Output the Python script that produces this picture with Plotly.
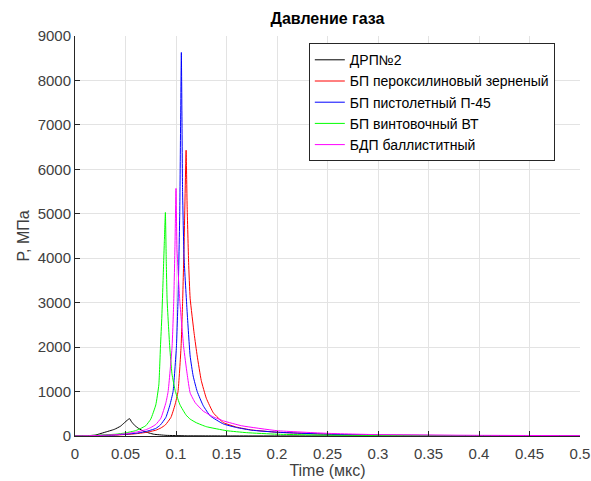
import plotly.graph_objects as go

# ---- data ----
names = ["ДРП№2", "БП пероксилиновый зерненый", "БП пистолетный П-45",
         "БП винтовочный ВТ", "БДП баллиститный"]

t_black = [0, 0.01, 0.02, 0.029, 0.039, 0.045, 0.049, 0.052, 0.054, 0.056, 0.059,
           0.063, 0.0687, 0.078, 0.09, 0.11, 0.15, 0.3, 0.5]
p_black = [0, 5, 20, 80, 150, 220, 300, 360, 390, 320, 240, 170, 100, 40, 15, 5, 2, 1, 0]

t_red = [0, 0.02, 0.04, 0.06, 0.07, 0.08, 0.085, 0.0895, 0.095, 0.099, 0.102, 0.105,
         0.1066, 0.108, 0.110, 0.111, 0.1125, 0.114, 0.118, 0.121, 0.125, 0.13, 0.137,
         0.147, 0.16, 0.175, 0.2, 0.25, 0.3, 0.4, 0.5]
p_red = [0, 8, 20, 50, 80, 130, 180, 250, 420, 700, 1000, 2000, 3060, 4300, 6430, 5200,
         3900, 3100, 2300, 1800, 1250, 850, 520, 300, 200, 135, 85, 40, 20, 9, 5]

t_blue = [0, 0.02, 0.04, 0.06, 0.07, 0.08, 0.0846, 0.09, 0.094, 0.0971, 0.1004, 0.102,
          0.1037, 0.1053, 0.1065, 0.108, 0.111, 0.114, 0.117, 0.121, 0.127, 0.134,
          0.147, 0.16, 0.175, 0.2, 0.25, 0.3, 0.4, 0.5]
p_blue = [0, 8, 25, 60, 100, 170, 250, 420, 700, 1000, 2000, 3060, 5000, 8630, 5500,
          4000, 2800, 1800, 1350, 1000, 680, 450, 270, 190, 130, 85, 40, 20, 9, 5]

t_green = [0, 0.02, 0.04, 0.05, 0.06, 0.065, 0.07, 0.075, 0.08, 0.083, 0.0846, 0.086,
           0.0872, 0.0885, 0.0895, 0.0903, 0.0912, 0.0925, 0.0938, 0.096, 0.0994, 0.104,
           0.11, 0.114, 0.12, 0.13, 0.15, 0.17, 0.2, 0.25, 0.3, 0.4, 0.5]
p_green = [0, 15, 40, 70, 120, 170, 230, 380, 700, 1150, 2000, 2700, 3500, 4400, 5030,
           4000, 3060, 2500, 2000, 1400, 1000, 700, 470, 380, 300, 210, 120, 75, 40, 20,
           12, 6, 4]

t_mag = [0, 0.02, 0.04, 0.05, 0.06, 0.07, 0.075, 0.08, 0.085, 0.09, 0.0922, 0.0961,
         0.0978, 0.099, 0.100, 0.101, 0.1037, 0.1076, 0.111, 0.114, 0.119, 0.127, 0.137,
         0.147, 0.165, 0.2, 0.25, 0.3, 0.4, 0.5]
p_mag = [0, 10, 30, 50, 85, 140, 190, 260, 400, 750, 1000, 2000, 3060, 4300, 5570, 4200,
         3060, 2000, 1400, 970, 750, 560, 430, 340, 230, 120, 60, 30, 15, 8]

x_ticks = [0, 0.05, 0.1, 0.15, 0.2, 0.25, 0.3, 0.35, 0.4, 0.45, 0.5]
x_tick_labels = ["0", "0.05", "0.1", "0.15", "0.2", "0.25", "0.3", "0.35", "0.4", "0.45", "0.5"]
y_ticks = [0, 1000, 2000, 3000, 4000, 5000, 6000, 7000, 8000, 9000]
y_tick_labels = ["0", "1000", "2000", "3000", "4000", "5000", "6000", "7000", "8000", "9000"]

series = [(t_black, p_black, "#000000"), (t_red, p_red, "#ff0000"),
          (t_blue, p_blue, "#0000ff"), (t_green, p_green, "#00ff00"),
          (t_mag, p_mag, "#ff00ff")]

FONT = "Liberation Sans, Arial, Helvetica, sans-serif"
TXT = "#404040"

fig = go.Figure()
for (tt, pp, col), nm in zip(series, names):
    fig.add_trace(go.Scatter(x=tt, y=pp, mode="lines", name=nm,
                             line=dict(color=col, width=1, shape="spline", smoothing=0.4)))

fig.update_layout(
    width=591, height=481,
    margin=dict(l=75, r=11, t=36, b=45, autoexpand=False),
    paper_bgcolor="white", plot_bgcolor="white",
    font=dict(family=FONT, color=TXT, size=15),
    title=dict(text="<b>Давление газа</b>", x=327.5 / 591, xanchor="center",
               y=1 - 18 / 481, yanchor="middle", yref="container",
               font=dict(size=16, color="#000000", family=FONT)),
    showlegend=True,
    legend=dict(x=0.463, y=0.982, xanchor="left", yanchor="top",
                bgcolor="white", bordercolor="#262626", borderwidth=1,
                font=dict(size=14, color="#000000", family=FONT),
                tracegroupgap=0, itemwidth=30),
)
fig.update_xaxes(range=[0, 0.5], tickvals=x_ticks, ticktext=x_tick_labels,
                 showgrid=True, gridcolor="#e3e3e3", gridwidth=1,
                 showline=True, linecolor="#262626", linewidth=1,
                 ticks="inside", ticklen=5, tickcolor="#262626",
                 zeroline=False, mirror=False, automargin=False,
                 ticklabelstandoff=4,
                 title=dict(text="Time (мкс)", font=dict(size=16, color=TXT), standoff=2))
fig.update_yaxes(range=[0, 9000], tickvals=y_ticks, ticktext=y_tick_labels,
                 showgrid=True, gridcolor="#e3e3e3", gridwidth=1,
                 showline=True, linecolor="#262626", linewidth=1,
                 ticks="inside", ticklen=5, tickcolor="#262626",
                 zeroline=False, mirror=False, automargin=False,
                 title=dict(text="P, МПа", font=dict(size=16, color=TXT), standoff=4))

fig.write_html("out.html", config={"displayModeBar": False},
               post_script="document.body.style.margin='0';document.body.style.overflow='hidden';")
